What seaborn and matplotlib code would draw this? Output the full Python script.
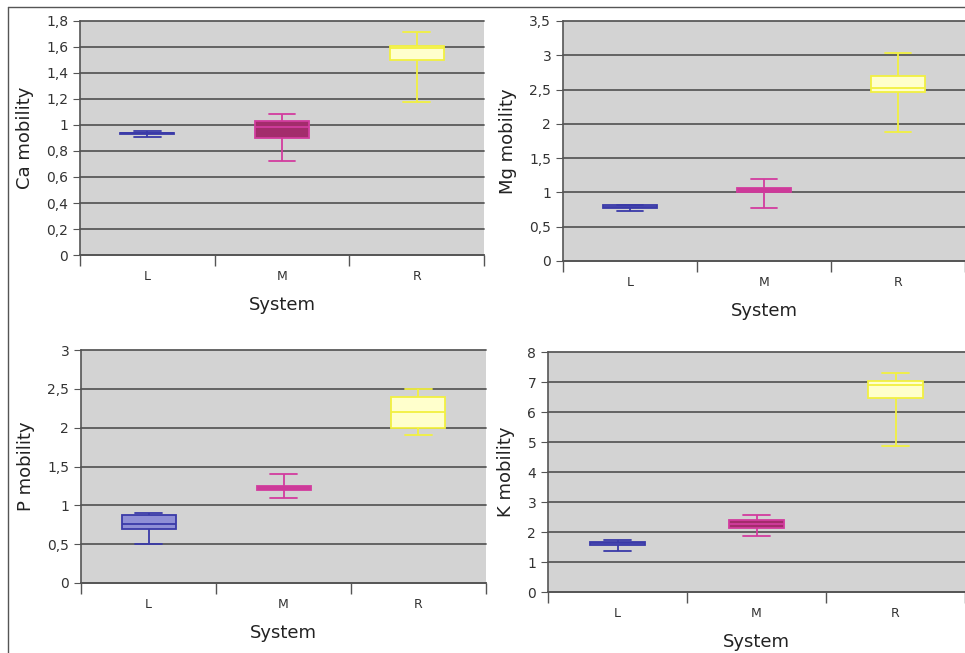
import numpy as np
import pandas as pd
import matplotlib
matplotlib.use("Agg")
import matplotlib.pyplot as plt
from matplotlib.lines import Line2D
from matplotlib.ticker import FuncFormatter, FixedLocator, MultipleLocator
import seaborn as sns

systems = ["L", "M", "R"]

# five-number summaries per system (min, q1, median, q3, max)
ca = [[0.905, 0.928, 0.935, 0.940, 0.955],
      [0.726, 0.900, 0.985, 1.033, 1.087],
      [1.180, 1.503, 1.595, 1.605, 1.715]]
mg = [[0.73, 0.775, 0.79, 0.81, 0.82],
      [0.78, 1.00, 1.04, 1.065, 1.19],
      [1.88, 2.47, 2.53, 2.70, 3.03]]
p = [[0.50, 0.69, 0.76, 0.872, 0.90],
     [1.09, 1.195, 1.22, 1.25, 1.40],
     [1.905, 1.99, 2.20, 2.394, 2.50]]
k = [[1.37, 1.58, 1.62, 1.66, 1.75],
     [1.87, 2.15, 2.27, 2.39, 2.58],
     [4.88, 6.46, 6.90, 7.02, 7.29]]

ylabels = ["Ca mobility", "Mg mobility", "P mobility", "K mobility"]
ymax = [1.8, 3.5, 3.0, 8.0]
ystep = [0.2, 0.5, 0.5, 1.0]

fills = ["#8f8fd6", "#a32c6c", "#ffffcc"]
edges = ["#3a3aa8", "#d23c9e", "#f2f040"]

sns.set_style("ticks")

fig = plt.figure(figsize=(9.65, 6.53), dpi=100)
W, H = 965, 653
# axes boxes in pixels: left, right, top, bottom
boxes = [(80, 484, 21, 255), (563, 965, 21, 261),
         (81, 486, 350, 583), (548, 965, 352, 592)]

def fmt(v, pos):
    return f"{round(v, 2):g}".replace(".", ",")

for stats, lab, top, step, (l, r, t, b) in zip([ca, mg, p, k], ylabels, ymax, ystep, boxes):
    ax = fig.add_axes([l / W, 1 - b / H, (r - l) / W, (b - t) / H])
    ax.set_facecolor("#d3d3d3")
    for s, vals, fc, ec in zip(systems, stats, fills, edges):
        df = pd.DataFrame({"System": [s] * len(vals), "value": vals})
        sns.boxplot(data=df, x="System", y="value", order=systems, color=fc,
                    linecolor=ec, width=0.4, whis=(0, 100), saturation=1,
                    linewidth=1.3, showfliers=False, ax=ax)
    ax.set_xlim(-0.5, 2.5)
    ax.set_ylim(0, top)
    ax.yaxis.set_major_locator(MultipleLocator(step))
    ax.yaxis.set_major_formatter(FuncFormatter(fmt))
    ax.grid(axis="y", color="#5a5a5a", lw=1.3)
    ax.set_axisbelow(True)
    for gl in ax.yaxis.get_gridlines():
        gl.set_clip_on(False)
    ax.xaxis.set_minor_locator(FixedLocator([-0.5, 0.5, 1.5, 2.5]))
    ax.tick_params(axis="x", which="major", length=0, labelsize=9, pad=11, labelcolor="#333333")
    ax.tick_params(axis="x", which="minor", length=8, color="#555555", width=1)
    ax.tick_params(axis="y", length=5, labelsize=10, color="#555555", labelcolor="#333333")
    for sp in ["top", "right"]:
        ax.spines[sp].set_visible(False)
    for sp in ["left", "bottom"]:
        ax.spines[sp].set_color("#555555")
        ax.spines[sp].set_linewidth(1.2)
    ax.set_xlabel("System", fontsize=13, labelpad=9, color="#222222")
    ax.set_ylabel(lab, fontsize=13, labelpad=9, color="#222222")

# outer frame (top and left edges)
fig.add_artist(Line2D([8 / W, 8 / W], [0, 1 - 7 / H], color="#555555", lw=1, transform=fig.transFigure))
fig.add_artist(Line2D([8 / W, 1], [1 - 7 / H, 1 - 7 / H], color="#555555", lw=1, transform=fig.transFigure))

fig.savefig("out.png", dpi=100)
